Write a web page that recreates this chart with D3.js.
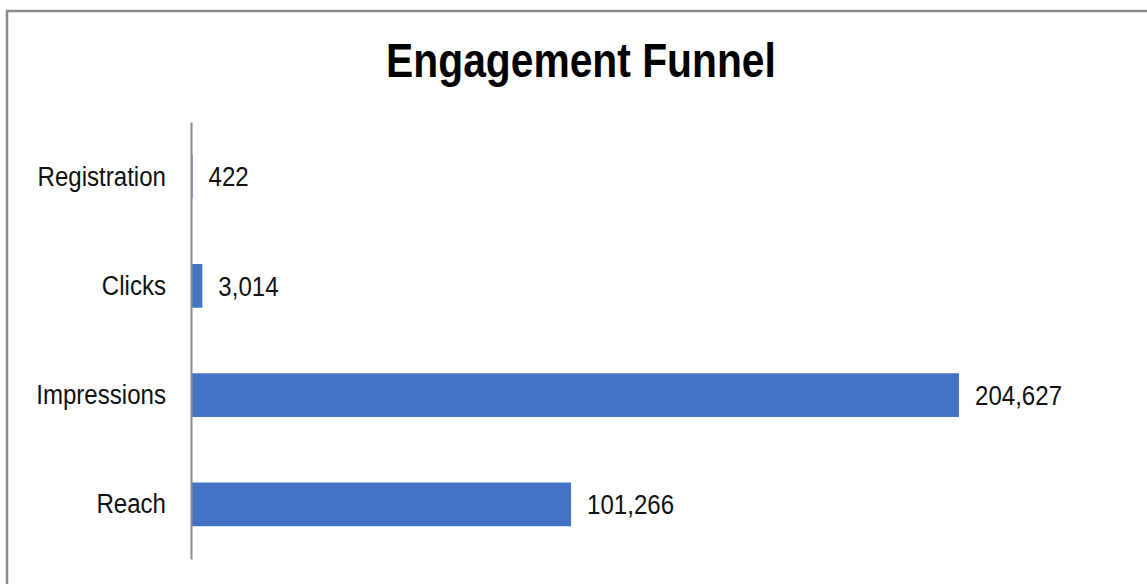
<!DOCTYPE html>
<html>
<head>
<meta charset="utf-8">
<script src="https://cdn.jsdelivr.net/npm/d3@7"></script>
<style>
  html, body { margin: 0; padding: 0; background: #ffffff; }
  svg { display: block; }
</style>
</head>
<body>
<svg id="chart" width="1147" height="584"></svg>
<script>
const title = "Engagement Funnel";
const categories = ["Registration", "Clicks", "Impressions", "Reach"];
const values = [422, 3014, 204627, 101266];
const xDomainMax = 250000;

const W = 1147, H = 584;
const svg = d3.select("#chart");
const font = "'Liberation Sans', Arial, sans-serif";
const narrow = 0.86;

// frame
svg.append("path")
  .attr("d", `M7,${H + 2} L7,11 L${W + 2},11`)
  .attr("fill", "none")
  .attr("stroke", "#8c8c8c")
  .attr("stroke-width", 2.5);

// title
svg.append("text")
  .attr("transform", "translate(581,77) scale(0.85,1)")
  .attr("x", 0)
  .attr("y", 0)
  .attr("text-anchor", "middle")
  .attr("font-family", font)
  .attr("font-weight", "bold")
  .attr("font-size", 48)
  .attr("fill", "#000")
  .text(title);

const y = d3.scaleBand()
  .domain(categories)
  .range([122, 559])
  .paddingInner(0.6)
  .paddingOuter(0.3);

const x0 = 191;
const x = d3.scaleLinear()
  .domain([0, xDomainMax])
  .range([x0, x0 + (959 - x0) / 204627 * xDomainMax]);

const data = categories.map((c, i) => ({ c, v: values[i] }));

svg.append("g").selectAll("rect")
  .data(data)
  .join("rect")
  .attr("x", x(0))
  .attr("y", d => y(d.c))
  .attr("width", d => x(d.v) - x(0))
  .attr("height", y.bandwidth())
  .attr("fill", "#4472C4");

// axis
const axis = d3.axisLeft(y).tickSize(0).tickPadding(0);
const ag = svg.append("g")
  .attr("transform", `translate(${x0},0)`)
  .call(axis);
ag.select(".domain").attr("stroke", "#8c8c8c").attr("stroke-width", 2);
ag.selectAll(".tick text")
  .attr("x", -25 / narrow)
  .attr("transform", `scale(${narrow},1)`)
  .attr("font-family", font)
  .attr("font-size", 28)
  .attr("fill", "#111");

// value labels
const fmt = d3.format(",");
svg.append("g").selectAll("text")
  .data(data)
  .join("text")
  .attr("transform", d => `translate(${x(d.v) + 16},${y(d.c) + y.bandwidth() / 2}) scale(${narrow},1)`)
  .attr("dy", "0.35em")
  .attr("font-family", font)
  .attr("font-size", 28)
  .attr("fill", "#111")
  .text(d => fmt(d.v));
</script>
</body>
</html>
